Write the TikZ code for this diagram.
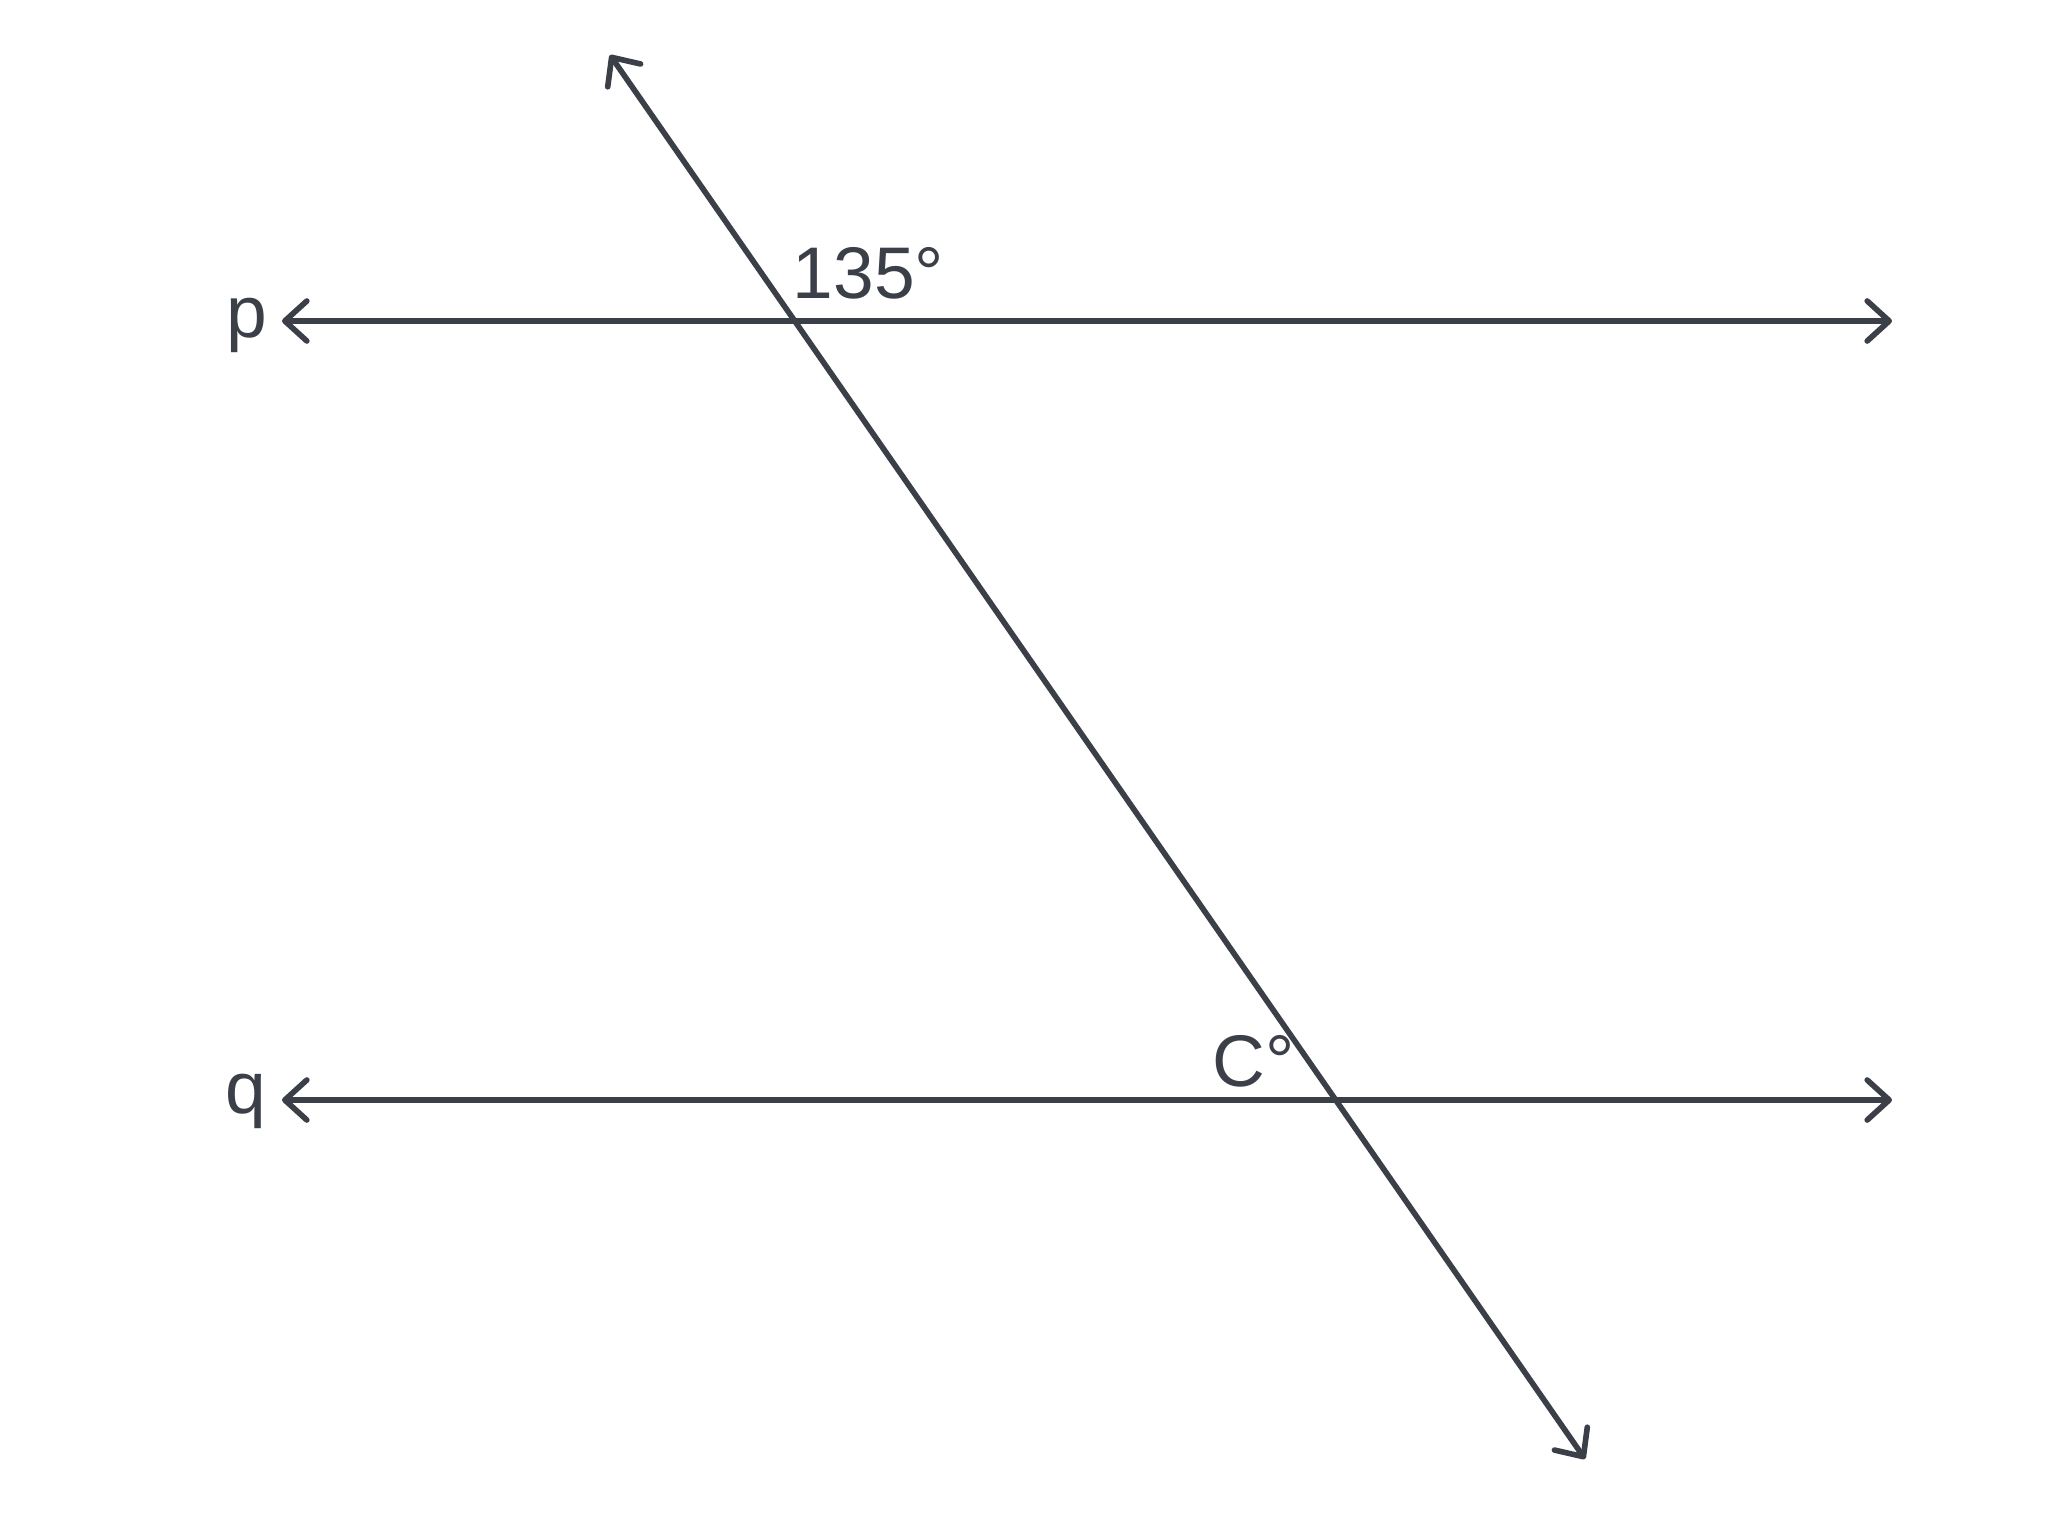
\documentclass[tikz,border=0pt]{standalone}
\usepackage{fontspec}
\setmainfont{Liberation Sans}
\usetikzlibrary{arrows.meta,positioning}
\definecolor{inkgray}{HTML}{3B3F48}

\begin{document}
\begin{tikzpicture}[x=0.01cm,y=0.01cm]
	\tikzset{barb/.tip={Straight Barb[length=0.22cm,width=0.40cm,line cap=round,line join=round]},
		line/.style={draw=inkgray,line width=1.6pt,line cap=round,line join=round,barb-barb},
		lbl/.style={inner sep=0pt,anchor=base west,text=inkgray,font=\fontsize{20.8}{24}\selectfont}}
	\useasboundingbox (0,0) rectangle (2055,-1521);
	\coordinate (pL) at (282,-321);
	\coordinate (pR) at (1892,-321);
	\coordinate (qL) at (282,-1100);
	\coordinate (qR) at (1892,-1100);
	\coordinate (tT) at (610,-55);
	\coordinate (tB) at (1585,-1459);
	\node[lbl] (p) at (226,-337) {p};
	\node[lbl] (q) at (225,-1113) {q};
	\node[lbl] (a1) at (792,-298) {135°};
	\node[lbl] (c1) at (1212,-1086) {C°};
	\draw[line] (pL) -- (pR);
	\draw[line] (qL) -- (qR);
	\draw[line] (tT) -- (tB);
\end{tikzpicture}
\end{document}
